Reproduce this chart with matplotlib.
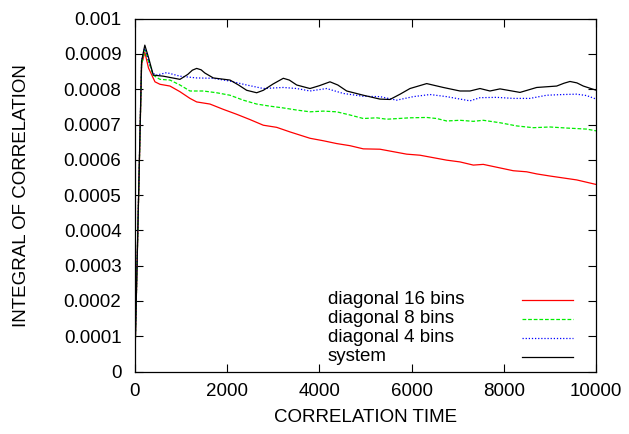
import numpy as np
import matplotlib
matplotlib.use("Agg")
import matplotlib.pyplot as plt
from matplotlib.lines import Line2D
from matplotlib.ticker import FixedLocator, FixedFormatter

# Values
t_16 = [0, 150, 220, 300, 440, 548, 765, 981, 1198, 1343, 1631, 1919, 2210, 2498,
        2787, 3076, 3365, 3653, 3798, 4086, 4376, 4664, 4953, 5314, 5892, 6181,
        6759, 7047, 7336, 7552, 8202, 8492, 8709, 8997, 9575, 10000]
v_16 = [0.0, 0.00087, 0.000905, 0.00086, 0.000821, 0.000814, 0.000809, 0.000793,
        0.000774, 0.000764, 0.000758, 0.000743, 0.000729, 0.000714, 0.000698,
        0.000692, 0.000679, 0.000667, 0.000661, 0.000654, 0.000646, 0.00064,
        0.000631, 0.00063, 0.000616, 0.000613, 0.000599, 0.000594, 0.000585,
        0.000587, 0.000569, 0.000566, 0.00056, 0.000554, 0.000543, 0.00053]

t_8 = [0, 150, 220, 300, 400, 548, 765, 981, 1198, 1486, 1776, 2065, 2353, 2643,
       2932, 3220, 3510, 3798, 4086, 4376, 4664, 4953, 5243, 5459, 5964, 6326,
       6542, 6759, 7047, 7336, 7552, 7914, 8276, 8635, 8997, 9359, 9792, 10000]
v_8 = [0.0, 0.00087, 0.000912, 0.00088, 0.00084, 0.000828, 0.000826, 0.000812,
       0.000795, 0.000795, 0.00079, 0.000783, 0.000769, 0.000758, 0.000752,
       0.000747, 0.000741, 0.000736, 0.000738, 0.000736, 0.000727, 0.000717,
       0.000719, 0.000715, 0.000719, 0.00072, 0.000717, 0.00071, 0.000712,
       0.000709, 0.000712, 0.000705, 0.000696, 0.000691, 0.000693, 0.00069,
       0.000687, 0.000682]

t_4 = [0, 150, 220, 300, 400, 476, 693, 981, 1343, 1703, 2065, 2426, 2787, 3220,
       3510, 3798, 4159, 4520, 4953, 5314, 5675, 6036, 6398, 6759, 7264, 7481,
       7842, 8203, 8564, 8925, 9286, 9575, 9791, 10000]
v_4 = [0.0, 0.00088, 0.00092, 0.00088, 0.000845, 0.00084, 0.000847, 0.000837,
       0.000832, 0.000831, 0.000823, 0.000812, 0.000802, 0.000805, 0.000802,
       0.000795, 0.000802, 0.000788, 0.00078, 0.000779, 0.000769, 0.000779,
       0.000785, 0.000779, 0.000767, 0.000776, 0.000777, 0.000774, 0.000774,
       0.000783, 0.000785, 0.000786, 0.000782, 0.000772]

t_sys = [0, 150, 220, 300, 403, 620, 981, 1150, 1250, 1343, 1440, 1520, 1703, 2065,
         2250, 2426, 2643, 2787, 3000, 3220, 3350, 3510, 3798, 4000, 4231, 4400,
         4593, 4953, 5314, 5531, 5750, 5964, 6326, 6686, 7047, 7264, 7481, 7697,
         7914, 8347, 8709, 9142, 9300, 9430, 9580, 9719, 10000]
v_sys = [0.0, 0.00088, 0.000925, 0.00089, 0.00084, 0.000837, 0.000828, 0.000842,
         0.000854, 0.000859, 0.000855, 0.000846, 0.000832, 0.000826, 0.000812,
         0.000797, 0.00079, 0.000797, 0.000815, 0.000831, 0.000826, 0.000812,
         0.000802, 0.00081, 0.000821, 0.000812, 0.000795, 0.000783, 0.000772,
         0.000771, 0.000786, 0.000802, 0.000816, 0.000805, 0.000795, 0.000795,
         0.000802, 0.000795, 0.000801, 0.000791, 0.000805, 0.000809, 0.000817,
         0.000822, 0.000818, 0.000809, 0.000797]

labels = ["diagonal 16 bins", "diagonal 8 bins", "diagonal 4 bins", "system"]
colors = ["#ff0000", "#00ee00", "#0000ff", "black"]
dashes = [None, (3, 1.5), (1, 1.5), None]

x_ticks = [0, 2000, 4000, 6000, 8000, 10000]
y_ticks = [0, 0.0001, 0.0002, 0.0003, 0.0004, 0.0005, 0.0006, 0.0007, 0.0008,
           0.0009, 0.001]
y_tick_labels = ["0", "0.0001", "0.0002", "0.0003", "0.0004", "0.0005", "0.0006",
                 "0.0007", "0.0008", "0.0009", "0.001"]

plt.rcParams["font.family"] = ["Liberation Sans", "DejaVu Sans"]

fig = plt.figure(figsize=(6.29, 4.34), dpi=100)
ax = fig.add_axes([0.2141, 0.144, 0.948 - 0.2141, 0.957 - 0.144])

lw = 0.9
series = [(t_16, v_16), (t_8, v_8), (t_4, v_4), (t_sys, v_sys)]
for (t, v), lab, c, d in zip(series, labels, colors, dashes):
    kw = {"dashes": d} if d else {}
    ax.plot(t, v, color=c, lw=lw, label=lab, **kw)

ax.set_xlim(0, 10000)
ax.set_ylim(0, 0.001)
ax.xaxis.set_major_locator(FixedLocator(x_ticks))
ax.xaxis.set_major_formatter(FixedFormatter([str(x) for x in x_ticks]))
ax.yaxis.set_major_locator(FixedLocator(y_ticks))
ax.yaxis.set_major_formatter(FixedFormatter(y_tick_labels))
ax.tick_params(direction="in", top=True, right=True, length=6, width=0.8,
               labelsize=13.5)
ax.tick_params(axis="y", pad=9.5)
ax.tick_params(axis="x", pad=8)
for s in ax.spines.values():
    s.set_linewidth(0.9)

ax.set_xlabel("CORRELATION TIME", fontsize=13.5)
ax.xaxis.set_label_coords(0.5, -0.105)
ax.set_ylabel("INTEGRAL OF CORRELATION", fontsize=13.5)
ax.yaxis.set_label_coords(-0.226, 0.5)

# gnuplot-style key: text left-justified, sample line on the right
row_y = [0.2027, 0.1491, 0.0955, 0.0419]
for lab, c, d, yk in zip(labels, colors, dashes, row_y):
    ax.text(0.4188, yk, lab, transform=ax.transAxes,
            fontsize=13.5, ha="left", va="center")
    key = Line2D([0.8394, 0.9499], [yk, yk], transform=ax.transAxes,
                 color=c, lw=lw)
    if d:
        key.set_dashes(d)
    ax.add_line(key)

fig.savefig("out.png", dpi=100)
